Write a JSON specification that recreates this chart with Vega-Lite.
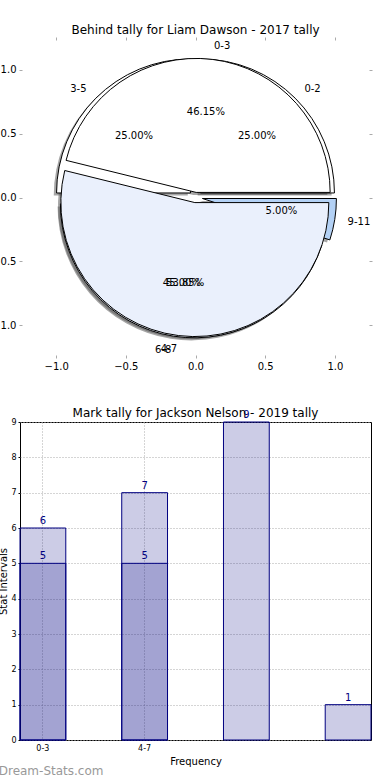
{
  "$schema": "https://vega.github.io/schema/vega-lite/v6.json",
  "autosize": {"type": "pad"},
  "padding": {"left": -9, "top": 23, "right": 0, "bottom": 0},
  "background": "#ffffff",
  "config": {
    "font": "DejaVu Sans",
    "title": {"font": "DejaVu Sans", "fontWeight": "normal", "fontSize": 12, "color": "#000000"},
    "axis": {"labelFont": "DejaVu Sans", "titleFont": "DejaVu Sans", "titleFontWeight": "normal", "labelColor": "#000000", "titleColor": "#000000"}
  },
  "title": {"text": "Dream-Stats.com", "orient": "bottom", "anchor": "start", "fontSize": 12, "color": "#999999", "offset": -1, "dx": 7},
  "datasets": {
    "pie": [
      {"pie": "A", "cat": "0-3", "frac": 0.461538, "ord": 1},
      {"pie": "A", "cat": "4-7", "frac": 0.538462, "ord": 2},
      {"pie": "B", "cat": "0-2", "frac": 0.25, "ord": 1},
      {"pie": "B", "cat": "3-5", "frac": 0.25, "ord": 2},
      {"pie": "B", "cat": "6-8", "frac": 0.45, "ord": 3},
      {"pie": "B", "cat": "9-11", "frac": 0.05, "ord": 4}
    ],
    "bars": [
      {"series": "S1", "cat": "0-3", "v": 6},
      {"series": "S1", "cat": "4-7", "v": 7},
      {"series": "S1", "cat": "8-11", "v": 9},
      {"series": "S1", "cat": "12-15", "v": 1},
      {"series": "S2", "cat": "0-3", "v": 5},
      {"series": "S2", "cat": "4-7", "v": 5}
    ]
  },
  "vconcat": [
    {
      "width": 347,
      "height": 315,
      "title": {"text": "Behind tally for Liam Dawson - 2017 tally", "offset": 0},
      "view": {"stroke": null},
      "data": {"name": "pie"},
      "resolve": {"axis": {"x": "independent", "y": "independent"}},
      "layer": [
        {
          "mark": {"type": "point", "opacity": 0},
          "encoding": {
            "x": {"datum": 0, "type": "quantitative", "scale": {"domain": [-1.245, 1.245], "nice": false, "zero": false},
              "axis": {"orient": "bottom", "values": [-1, -0.5, 0, 0.5, 1], "format": ".1f", "domain": false, "grid": false, "tickColor": "#aaaaaa", "tickSize": 3, "labelFontSize": 10, "labelPadding": 3, "title": null}},
            "y": {"datum": 0, "type": "quantitative", "scale": {"domain": [-1.235, 1.235], "nice": false, "zero": false},
              "axis": {"orient": "left", "values": [-1, -0.5, 0, 0.5, 1], "format": ".1f", "domain": false, "grid": false, "tickColor": "#aaaaaa", "tickSize": 3, "labelFontSize": 10, "labelPadding": 3, "title": null}}
          }
        },
        {
          "mark": {"type": "point", "opacity": 0},
          "encoding": {
            "x": {"datum": 0, "type": "quantitative", "axis": {"orient": "top", "values": [-1, -0.5, 0, 0.5, 1], "labels": false, "domain": false, "grid": false, "tickColor": "#aaaaaa", "tickSize": 3, "title": null}},
            "y": {"datum": 0, "type": "quantitative", "axis": {"orient": "right", "values": [-1, -0.5, 0, 0.5, 1], "labels": false, "domain": false, "grid": false, "tickColor": "#aaaaaa", "tickSize": 3, "title": null}}
          }
        },
        {
          "transform": [{"filter": "datum.pie == 'B'"}, {"stack": "frac", "groupby": [], "sort": [{"field": "ord"}], "as": ["t0", "t1"]}, {"filter": "datum.cat == '0-2'"}],
          "mark": {"type": "arc", "outerRadius": 134, "xOffset": 2.15, "yOffset": -1.97, "fill": "#4d4d4d", "fillOpacity": 0.5},
          "encoding": {"x": {"datum": 0, "type": "quantitative", "axis": null}, "y": {"datum": 0, "type": "quantitative", "axis": null},
            "theta": {"field": "t0", "type": "quantitative", "scale": {"domain": [0, 1], "range": [1.5707963, -4.712389]}}, "theta2": {"field": "t1"}}
        },
        {
          "transform": [{"filter": "datum.pie == 'B'"}, {"stack": "frac", "groupby": [], "sort": [{"field": "ord"}], "as": ["t0", "t1"]}, {"filter": "datum.cat == '3-5'"}],
          "mark": {"type": "arc", "outerRadius": 134, "xOffset": -7.75, "yOffset": -1.97, "fill": "#4d4d4d", "fillOpacity": 0.5},
          "encoding": {"x": {"datum": 0, "type": "quantitative", "axis": null}, "y": {"datum": 0, "type": "quantitative", "axis": null},
            "theta": {"field": "t0", "type": "quantitative"}, "theta2": {"field": "t1"}}
        },
        {
          "transform": [{"filter": "datum.pie == 'B'"}, {"stack": "frac", "groupby": [], "sort": [{"field": "ord"}], "as": ["t0", "t1"]}, {"filter": "datum.cat == '6-8'"}],
          "mark": {"type": "arc", "outerRadius": 134, "xOffset": -3.9, "yOffset": 8.88, "fill": "#4d4d4d", "fillOpacity": 0.5},
          "encoding": {"x": {"datum": 0, "type": "quantitative", "axis": null}, "y": {"datum": 0, "type": "quantitative", "axis": null},
            "theta": {"field": "t0", "type": "quantitative"}, "theta2": {"field": "t1"}}
        },
        {
          "transform": [{"filter": "datum.pie == 'B'"}, {"stack": "frac", "groupby": [], "sort": [{"field": "ord"}], "as": ["t0", "t1"]}, {"filter": "datum.cat == '9-11'"}],
          "mark": {"type": "arc", "outerRadius": 134, "xOffset": 4.11, "yOffset": 3.56, "fill": "#4d4d4d", "fillOpacity": 0.5},
          "encoding": {"x": {"datum": 0, "type": "quantitative", "axis": null}, "y": {"datum": 0, "type": "quantitative", "axis": null},
            "theta": {"field": "t0", "type": "quantitative"}, "theta2": {"field": "t1"}}
        },
        {
          "transform": [{"filter": "datum.pie == 'A'"}, {"stack": "frac", "groupby": [], "sort": [{"field": "ord"}], "as": ["t0", "t1"]}, {"filter": "datum.cat == '0-3'"}],
          "mark": {"type": "arc", "outerRadius": 134, "xOffset": -2.13, "yOffset": -2.52, "fill": "#4d4d4d", "fillOpacity": 0.5},
          "encoding": {"x": {"datum": 0, "type": "quantitative", "axis": null}, "y": {"datum": 0, "type": "quantitative", "axis": null},
            "theta": {"field": "t0", "type": "quantitative"}, "theta2": {"field": "t1"}}
        },
        {
          "transform": [{"filter": "datum.pie == 'A'"}, {"stack": "frac", "groupby": [], "sort": [{"field": "ord"}], "as": ["t0", "t1"]}, {"filter": "datum.cat == '4-7'"}],
          "mark": {"type": "arc", "outerRadius": 134, "xOffset": -3.47, "yOffset": 7.64, "fill": "#4d4d4d", "fillOpacity": 0.5},
          "encoding": {"x": {"datum": 0, "type": "quantitative", "axis": null}, "y": {"datum": 0, "type": "quantitative", "axis": null},
            "theta": {"field": "t0", "type": "quantitative"}, "theta2": {"field": "t1"}}
        },
        {
          "transform": [{"filter": "datum.pie == 'B'"}, {"stack": "frac", "groupby": [], "sort": [{"field": "ord"}], "as": ["t0", "t1"]}, {"filter": "datum.cat == '0-2'"}],
          "mark": {"type": "arc", "outerRadius": 134, "xOffset": 4.95, "yOffset": -4.53, "fill": "#ffffff", "stroke": "#000000", "strokeWidth": 1},
          "encoding": {"x": {"datum": 0, "type": "quantitative", "axis": null}, "y": {"datum": 0, "type": "quantitative", "axis": null},
            "theta": {"field": "t0", "type": "quantitative"}, "theta2": {"field": "t1"}}
        },
        {
          "transform": [{"filter": "datum.pie == 'B'"}, {"stack": "frac", "groupby": [], "sort": [{"field": "ord"}], "as": ["t0", "t1"]}, {"filter": "datum.cat == '3-5'"}],
          "mark": {"type": "arc", "outerRadius": 134, "xOffset": -4.95, "yOffset": -4.53, "fill": "#ffffff", "stroke": "#000000", "strokeWidth": 1},
          "encoding": {"x": {"datum": 0, "type": "quantitative", "axis": null}, "y": {"datum": 0, "type": "quantitative", "axis": null},
            "theta": {"field": "t0", "type": "quantitative"}, "theta2": {"field": "t1"}}
        },
        {
          "transform": [{"filter": "datum.pie == 'B'"}, {"stack": "frac", "groupby": [], "sort": [{"field": "ord"}], "as": ["t0", "t1"]}, {"filter": "datum.cat == '6-8'"}],
          "mark": {"type": "arc", "outerRadius": 134, "xOffset": -1.1, "yOffset": 6.32, "fill": "#eaf0fc", "stroke": "#000000", "strokeWidth": 1},
          "encoding": {"x": {"datum": 0, "type": "quantitative", "axis": null}, "y": {"datum": 0, "type": "quantitative", "axis": null},
            "theta": {"field": "t0", "type": "quantitative"}, "theta2": {"field": "t1"}}
        },
        {
          "transform": [{"filter": "datum.pie == 'B'"}, {"stack": "frac", "groupby": [], "sort": [{"field": "ord"}], "as": ["t0", "t1"]}, {"filter": "datum.cat == '9-11'"}],
          "mark": {"type": "arc", "outerRadius": 134, "xOffset": 6.91, "yOffset": 1.0, "fill": "#b3d1f5", "stroke": "#000000", "strokeWidth": 1},
          "encoding": {"x": {"datum": 0, "type": "quantitative", "axis": null}, "y": {"datum": 0, "type": "quantitative", "axis": null},
            "theta": {"field": "t0", "type": "quantitative"}, "theta2": {"field": "t1"}}
        },
        {
          "transform": [{"filter": "datum.pie == 'A'"}, {"stack": "frac", "groupby": [], "sort": [{"field": "ord"}], "as": ["t0", "t1"]}, {"filter": "datum.cat == '0-3'"}],
          "mark": {"type": "arc", "outerRadius": 134, "xOffset": 0.67, "yOffset": -5.08, "fill": "#ffffff", "stroke": "#000000", "strokeWidth": 1},
          "encoding": {"x": {"datum": 0, "type": "quantitative", "axis": null}, "y": {"datum": 0, "type": "quantitative", "axis": null},
            "theta": {"field": "t0", "type": "quantitative"}, "theta2": {"field": "t1"}}
        },
        {
          "transform": [{"filter": "datum.pie == 'A'"}, {"stack": "frac", "groupby": [], "sort": [{"field": "ord"}], "as": ["t0", "t1"]}, {"filter": "datum.cat == '4-7'"}],
          "mark": {"type": "arc", "outerRadius": 134, "xOffset": -0.67, "yOffset": 5.08, "fill": "#eaf0fc", "stroke": "#000000", "strokeWidth": 1},
          "encoding": {"x": {"datum": 0, "type": "quantitative", "axis": null}, "y": {"datum": 0, "type": "quantitative", "axis": null},
            "theta": {"field": "t0", "type": "quantitative"}, "theta2": {"field": "t1"}}
        },
        {
          "transform": [{"filter": "datum.pie == 'B'"}],
          "mark": {"type": "text", "radius": 154, "align": "left", "baseline": "middle", "fontSize": 10, "color": "#000000"},
          "encoding": {"x": {"datum": 0, "type": "quantitative", "axis": null}, "y": {"datum": 0, "type": "quantitative", "axis": null},
            "theta": {"field": "frac", "type": "quantitative", "stack": true}, "order": {"field": "ord"},
            "text": {"condition": {"test": "datum.cat == '0-2' || datum.cat == '9-11'", "field": "cat", "type": "nominal"}, "value": ""}}
        },
        {
          "transform": [{"filter": "datum.pie == 'B'"}],
          "mark": {"type": "text", "radius": 154, "align": "right", "baseline": "middle", "fontSize": 10, "color": "#000000"},
          "encoding": {"x": {"datum": 0, "type": "quantitative", "axis": null}, "y": {"datum": 0, "type": "quantitative", "axis": null},
            "theta": {"field": "frac", "type": "quantitative", "stack": true}, "order": {"field": "ord"},
            "text": {"condition": {"test": "datum.cat == '3-5' || datum.cat == '6-8'", "field": "cat", "type": "nominal"}, "value": ""}}
        },
        {
          "transform": [{"filter": "datum.pie == 'B'"}],
          "mark": {"type": "text", "radius": 87, "align": "center", "baseline": "middle", "fontSize": 10, "color": "#000000"},
          "encoding": {"x": {"datum": 0, "type": "quantitative", "axis": null}, "y": {"datum": 0, "type": "quantitative", "axis": null},
            "theta": {"field": "frac", "type": "quantitative", "stack": true}, "order": {"field": "ord"},
            "text": {"field": "frac", "type": "quantitative", "format": ".2%"}}
        },
        {
          "transform": [{"filter": "datum.pie == 'A'"}],
          "mark": {"type": "text", "radius": 153, "align": "left", "baseline": "middle", "fontSize": 10, "color": "#000000"},
          "encoding": {"x": {"datum": 0, "type": "quantitative", "axis": null}, "y": {"datum": 0, "type": "quantitative", "axis": null},
            "theta": {"field": "frac", "type": "quantitative", "stack": true}, "order": {"field": "ord"},
            "text": {"condition": {"test": "datum.cat == '0-3'", "field": "cat", "type": "nominal"}, "value": ""}}
        },
        {
          "transform": [{"filter": "datum.pie == 'A'"}],
          "mark": {"type": "text", "radius": 153, "align": "right", "baseline": "middle", "fontSize": 10, "color": "#000000"},
          "encoding": {"x": {"datum": 0, "type": "quantitative", "axis": null}, "y": {"datum": 0, "type": "quantitative", "axis": null},
            "theta": {"field": "frac", "type": "quantitative", "stack": true}, "order": {"field": "ord"},
            "text": {"condition": {"test": "datum.cat == '4-7'", "field": "cat", "type": "nominal"}, "value": ""}}
        },
        {
          "transform": [{"filter": "datum.pie == 'A'"}],
          "mark": {"type": "text", "radius": 86, "align": "center", "baseline": "middle", "fontSize": 10, "color": "#000000"},
          "encoding": {"x": {"datum": 0, "type": "quantitative", "axis": null}, "y": {"datum": 0, "type": "quantitative", "axis": null},
            "theta": {"field": "frac", "type": "quantitative", "stack": true}, "order": {"field": "ord"},
            "text": {"field": "frac", "type": "quantitative", "format": ".2%"}}
        }
      ]
    },
    {
      "width": 351,
      "height": 318,
      "title": {"text": "Mark tally for Jackson Nelson - 2019 tally", "offset": -10},
      "view": {"stroke": "#000000", "strokeWidth": 1},
      "data": {"name": "bars"},
      "encoding": {
        "x": {"field": "cat", "type": "nominal", "sort": null,
          "scale": {"domain": ["0-3", "4-7", "8-11", "12-15"], "paddingInner": 0.55, "paddingOuter": 0},
          "axis": {"labelExpr": "datum.value == '0-3' || datum.value == '4-7' ? datum.value : ''", "labelAngle": 0, "labelFontSize": 8, "labelPadding": 4, "ticks": false, "domain": false,
            "grid": true, "bandPosition": 0.5, "gridColor": "#aaaaaa", "gridDash": [1, 2],
            "gridOpacity": {"condition": {"test": "datum.value == '0-3' || datum.value == '4-7'", "value": 1}, "value": 0},
            "title": "Frequency", "titleFontSize": 10, "titlePadding": 4}},
        "y": {"field": "v", "type": "quantitative", "scale": {"domain": [0, 9], "nice": false},
          "axis": {"values": [0, 1, 2, 3, 4, 5, 6, 7, 8, 9], "labelFontSize": 8, "labelPadding": 2, "tickSize": 2, "tickColor": "#000000", "domain": false,
            "grid": true, "gridColor": "#aaaaaa", "gridDash": [1, 2],
            "title": "Stat Intervals", "titleFontSize": 10, "titlePadding": 2}}
      },
      "layer": [
        {"transform": [{"filter": "datum.series == 'S1'"}], "mark": {"type": "bar", "fill": "#000080", "fillOpacity": 0.2, "stroke": "#000080", "strokeWidth": 1}},
        {"transform": [{"filter": "datum.series == 'S2'"}], "mark": {"type": "bar", "fill": "#000080", "fillOpacity": 0.2, "stroke": "#000080", "strokeWidth": 1}},
        {"mark": {"type": "text", "baseline": "alphabetic", "dy": -4, "fontSize": 10, "color": "#000080"}, "encoding": {"text": {"field": "v", "type": "quantitative"}}}
      ]
    }
  ],
  "spacing": 67,
  "bounds": "flush",
  "center": true
}
